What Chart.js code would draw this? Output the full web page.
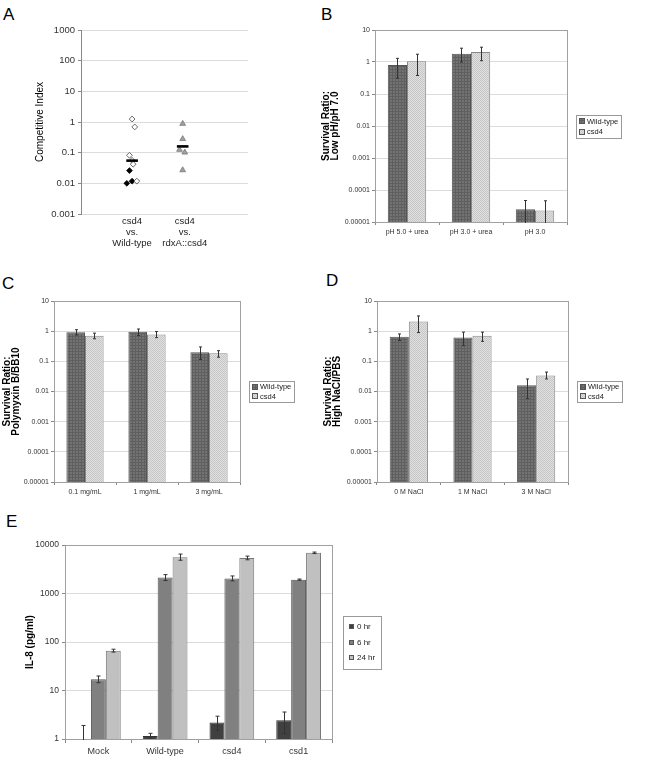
<!DOCTYPE html>
<html lang="en">
<head>
<meta charset="UTF-8" />
<title>csd4 phenotypes</title>
<style>
  body {
    margin: 0;
    background: #fff;
    font-family: 'Liberation Sans', Arial, sans-serif;
  }
  #page {
    position: relative;
    width: 650px;
    height: 758px;
    overflow: hidden;
  }
  .lbl {
    position: absolute;
    font-size: 17px;
    line-height: 1;
    color: #000;
  }
  canvas {
    position: absolute;
  }
</style>
</head>
<body>
<div id="page">
  <div class="lbl" style="left:3px;top:6px">A</div>
  <div class="lbl" style="left:321px;top:6px">B</div>
  <div class="lbl" style="left:2px;top:275px">C</div>
  <div class="lbl" style="left:326px;top:272px">D</div>
  <div class="lbl" style="left:6px;top:513px">E</div>

  <canvas id="chartA" style="left:0;top:0" width="260" height="260"></canvas>
  <canvas id="chartB" style="left:320px;top:0" width="330" height="260"></canvas>
  <canvas id="chartC" style="left:0;top:270px" width="320" height="250"></canvas>
  <canvas id="chartD" style="left:320px;top:270px" width="330" height="250"></canvas>
  <canvas id="chartE" style="left:0;top:520px" width="400" height="238"></canvas>
</div>

<script src="https://cdn.jsdelivr.net/npm/chart.js"></script>
<script>
// ---- data ----
// A: competitive index
const catA = [['csd4', 'vs.', 'Wild-type'], ['csd4', 'vs.', 'rdxA::csd4']];
const ticksA = ['0.001', '0.01', '0.1', '1', '10', '100', '1000'];
const openX = [1.0, 1.05, 0.95, 1.0, 1.02, 1.09];
const openY = [1.25, 0.69, 0.082, 0.056, 0.042, 0.0118];
const fillX = [0.95, 0.9, 1.0];
const fillY = [0.026, 0.01, 0.0118];
const triX = [1.96, 1.96, 1.9, 2.0, 1.96];
const triY = [0.88, 0.28, 0.125, 0.102, 0.027];
const meanX = [1.0, 1.96];
const meanY = [0.055, 0.16];

// B, C, D: survival ratios
const ticksSurv = ['0.00001', '0.0001', '0.001', '0.01', '0.1', '1', '10'];
const seriesNames = ['Wild-type', 'csd4'];

const catB = ['pH 5.0 + urea', 'pH 3.0 + urea', 'pH 3.0'];
const wtB = [0.8, 1.8, 0.000025];
const wtBHi = [1.3, 2.7, 0.000047];
const wtBLo = [0.31, 1.0, 0.000003];
const csdB = [1.05, 2.05, 0.000023];
const csdBHi = [1.75, 2.9, 0.000046];
const csdBLo = [0.38, 1.1, 0.000002];

const catC = ['0.1 mg/mL', '1 mg/mL', '3 mg/mL'];
const wtC = [0.92, 0.95, 0.2];
const wtCHi = [1.12, 1.18, 0.3];
const wtCLo = [0.75, 0.72, 0.115];
const csdC = [0.7, 0.78, 0.185];
const csdCHi = [0.86, 0.97, 0.225];
const csdCLo = [0.56, 0.61, 0.137];

const catD = ['0 M NaCl', '1 M NaCl', '3 M NaCl'];
const wtD = [0.65, 0.62, 0.016];
const wtDHi = [0.81, 0.93, 0.026];
const wtDLo = [0.49, 0.33, 0.0058];
const csdD = [2.1, 0.71, 0.034];
const csdDHi = [3.2, 0.93, 0.044];
const csdDLo = [0.9, 0.46, 0.026];

// E: IL-8
const catE = ['Mock', 'Wild-type', 'csd4', 'csd1'];
const ticksE = ['1', '10', '100', '1000', '10000'];
const timeNames = ['0 hr', '6 hr', '24 hr'];
const il0 = [1.0, 1.15, 2.2, 2.45];
const il0Hi = [1.9, 1.31, 2.95, 3.6];
const il0Lo = [0.5, 1.05, 1.48, 1.3];
const il6 = [17, 2150, 2050, 1930];
const il6Hi = [19.9, 2450, 2300, 1985];
const il6Lo = [14.5, 1850, 1820, 1880];
const il24 = [66, 5600, 5400, 6900];
const il24Hi = [71, 6500, 5900, 7150];
const il24Lo = [62, 4850, 4950, 6650];

// ---- setup ----
const FONT = "'Liberation Sans', Arial, sans-serif";
Chart.defaults.font.family = FONT;
Chart.defaults.animation = false;
Chart.defaults.responsive = false;
Chart.defaults.plugins.legend.display = false;
Chart.defaults.plugins.tooltip.enabled = false;

function makePattern(base, mark, kind) {
    const c = document.createElement('canvas');
    const n = kind === 'grid' ? 3 : 2;
    c.width = n; c.height = n;
    const g = c.getContext('2d');
    g.fillStyle = base;
    g.fillRect(0, 0, n, n);
    g.fillStyle = mark;
    if (kind === 'grid') {
        g.fillRect(0, 0, 3, 1);
        g.fillRect(0, 0, 1, 3);
    } else {
        g.fillRect(0, 0, 1, 1);
        g.fillRect(1, 1, 1, 1);
    }
    return document.createElement('canvas').getContext('2d').createPattern(c, 'repeat');
}
const wtFill = makePattern('#737373', '#5f5f5f', 'grid');
const csdFill = makePattern('#e0e0e0', '#c6c6c6', 'dots');

// error bars from dataset.errHi / errLo
const errBars = {
    id: 'errBars',
    afterDatasetsDraw(chart, args, o) {
        const ctx = chart.ctx, a = chart.chartArea, y = chart.scales.y;
        ctx.save();
        ctx.beginPath();
        ctx.rect(a.left, a.top, a.right - a.left, a.bottom - a.top + 1);
        ctx.clip();
        ctx.strokeStyle = '#333';
        ctx.lineWidth = 1;
        chart.data.datasets.forEach((ds, i) => {
            if (!ds.errHi) return;
            chart.getDatasetMeta(i).data.forEach((bar, j) => {
                const x = Math.round(bar.x) + 0.5;
                const y1 = y.getPixelForValue(ds.errHi[j]);
                const y2 = y.getPixelForValue(ds.errLo[j]);
                const w = o.cap || 1.5;
                ctx.beginPath();
                ctx.moveTo(x, y1); ctx.lineTo(x, y2);
                ctx.moveTo(x - w, y1); ctx.lineTo(x + w, y1);
                ctx.moveTo(x - w, y2); ctx.lineTo(x + w, y2);
                ctx.stroke();
            });
        });
        ctx.restore();
    }
};

// thin frame round the plot area (Excel style)
const frame = {
    id: 'frame',
    beforeDatasetsDraw(chart) {
        const ctx = chart.ctx, a = chart.chartArea;
        ctx.save();
        ctx.strokeStyle = '#a0a0a0';
        ctx.lineWidth = 1;
        ctx.strokeRect(Math.round(a.left) + 0.5, Math.round(a.top) + 0.5,
            Math.round(a.right - a.left), Math.round(a.bottom - a.top));
        ctx.restore();
    }
};

// boxed legend to the right of the plot
const boxLegend = {
    id: 'boxLegend',
    afterDraw(chart, args, o) {
        const ctx = chart.ctx, a = chart.chartArea;
        const ds = chart.data.datasets;
        ctx.save();
        ctx.font = o.size + 'px ' + FONT;
        const tw = Math.max(...ds.map(d => ctx.measureText(d.label).width));
        const w = Math.round(o.pad * 2 + o.box + o.gap + tw);
        const h = Math.round(o.rowH * ds.length + o.padY * 2);
        const x = Math.round(a.right + o.dx);
        const y = Math.round((a.top + a.bottom) / 2 - h / 2 + (o.dy || 0));
        ctx.strokeStyle = '#999';
        ctx.lineWidth = 1;
        ctx.strokeRect(x + 0.5, y + 0.5, w, h);
        ds.forEach((d, i) => {
            const cy = y + o.padY + o.rowH * (i + 0.5);
            const bx = x + o.pad, by = Math.round(cy - o.box / 2);
            ctx.fillStyle = d.backgroundColor;
            ctx.fillRect(bx, by, o.box, o.box);
            ctx.strokeStyle = '#555';
            ctx.strokeRect(bx + 0.5, by + 0.5, o.box - 1, o.box - 1);
            ctx.fillStyle = '#222';
            ctx.textBaseline = 'middle';
            ctx.fillText(d.label, bx + o.box + o.gap, cy + 0.5);
        });
        ctx.restore();
    }
};

function logY(min, max, labels, o) {
    return {
        type: 'logarithmic',
        min: min,
        max: max,
        afterBuildTicks: s => { s.ticks = labels.map(t => ({ value: Number(t) })); },
        afterFit: s => { s.width = o.width; },
        ticks: {
            callback: (v, i) => labels[i],
            font: { size: o.tick },
            color: '#333',
            padding: o.tickPad,
            autoSkip: false
        },
        grid: { color: '#dcdcdc', tickColor: '#888', tickLength: 3 },
        border: { color: '#888' },
        title: {
            display: true,
            text: o.title,
            color: '#000',
            font: { size: o.titleSize, weight: o.bold ? 'bold' : 'normal', lineHeight: o.titleLH || 1.2 },
            padding: { top: o.titlePad, bottom: 0 }
        }
    };
}

function catX(o) {
    return {
        type: 'category',
        offset: true,
        afterFit: s => { s.height = o.height; },
        grid: { display: true, drawOnChartArea: false, offset: true, tickLength: o.tl, tickColor: '#888' },
        border: { color: '#888' },
        ticks: { font: { size: o.size }, color: '#333', padding: o.pad, maxRotation: 0, autoSkip: false }
    };
}

// ---- A ----
function pts(xs, ys) {
    return xs.map((x, i) => ({ x: x, y: ys[i] }));
}

new Chart(document.getElementById('chartA'), {
    type: 'scatter',
    data: {
        datasets: [
            { label: 'mean', data: pts(meanX, meanY), pointStyle: 'line', pointRadius: 5.8,
              borderColor: '#000', pointBorderWidth: 2.6 },
            { label: 'open', data: pts(openX, openY), pointStyle: 'rectRot', pointRadius: 2.9,
              backgroundColor: '#fff', borderColor: '#444', pointBorderWidth: 0.8 },
            { label: 'filled', data: pts(fillX, fillY), pointStyle: 'rectRot', pointRadius: 2.9,
              backgroundColor: '#000', borderColor: '#000', pointBorderWidth: 0.8 },
            { label: 'tri', data: pts(triX, triY), pointStyle: 'triangle', pointRadius: 3.3,
              backgroundColor: '#a0a0a0', borderColor: '#777', pointBorderWidth: 0.8 }
        ]
    },
    options: {
        layout: { padding: { left: 0, top: 30, right: 12, bottom: 0 } },
        scales: {
            x: {
                type: 'linear',
                min: 0.03,
                max: 3.2,
                afterBuildTicks: s => { s.ticks = [{ value: 1 }, { value: 2 }]; },
                afterFit: s => { s.height = 46; },
                grid: { display: false, drawTicks: false },
                border: { display: false },
                ticks: { callback: (v, i) => catA[i], font: { size: 9.5, lineHeight: 1.16 },
                         color: '#222', padding: 1.5, maxRotation: 0, autoSkip: false }
            },
            y: logY(0.001, 1000, ticksA, { width: 81, tick: 9.5, tickPad: 3, title: 'Competitive Index',
                                           titleSize: 10, bold: false, titlePad: 34 })
        }
    }
});

// ---- B, C, D ----
function survival(id, cats, wt, wtHi, wtLo, csd, csdHi, csdLo, o) {
    new Chart(document.getElementById(id), {
        type: 'bar',
        data: {
            labels: cats,
            datasets: [
                { label: seriesNames[0], data: wt, errHi: wtHi, errLo: wtLo,
                  backgroundColor: wtFill, borderColor: '#555', borderWidth: 1 },
                { label: seriesNames[1], data: csd, errHi: csdHi, errLo: csdLo,
                  backgroundColor: csdFill, borderColor: '#888', borderWidth: 1 }
            ]
        },
        options: {
            categoryPercentage: 0.6,
            barPercentage: 1,
            layout: { padding: { left: 0, top: o.top, right: o.right, bottom: 0 } },
            scales: {
                x: catX({ height: 38, tl: 3, size: 7, pad: 3 }),
                y: logY(0.00001, 10, ticksSurv, { width: o.yw, tick: 7, tickPad: 2, title: o.title,
                                                  titleSize: 10, bold: true, titleLH: 0.95, titlePad: o.tp })
            },
            plugins: {
                errBars: { cap: 1.5 },
                boxLegend: { dx: 9, size: 7.5, box: 6, gap: 2, pad: 3, padY: 1, rowH: o.rowH }
            }
        },
        plugins: [frame, errBars, boxLegend]
    });
}

survival('chartB', catB, wtB, wtBHi, wtBLo, csdB, csdBHi, csdBLo,
    { top: 30, right: 83, yw: 55, title: ['Survival Ratio:', 'Low pH/pH 7.0'], tp: 1, rowH: 10.5 });
survival('chartC', catC, wtC, wtCHi, wtCLo, csdC, csdCHi, csdCLo,
    { top: 31, right: 80, yw: 54, title: ['Survival Ratio:', 'Polymyxin B/BB10'], tp: 2.3, rowH: 9.5 });
survival('chartD', catD, wtD, wtDHi, wtDLo, csdD, csdDHi, csdDLo,
    { top: 31, right: 82, yw: 57, title: ['Survival Ratio:', 'High NaCl/PBS'], tp: 3, rowH: 9.5 });

// ---- E ----
new Chart(document.getElementById('chartE'), {
    type: 'bar',
    data: {
        labels: catE,
        datasets: [
            { label: timeNames[0], data: il0, errHi: il0Hi, errLo: il0Lo,
              backgroundColor: '#404040', borderColor: '#333', borderWidth: 1 },
            { label: timeNames[1], data: il6, errHi: il6Hi, errLo: il6Lo,
              backgroundColor: '#808080', borderColor: '#555', borderWidth: 1 },
            { label: timeNames[2], data: il24, errHi: il24Hi, errLo: il24Lo,
              backgroundColor: '#c0c0c0', borderColor: '#777', borderWidth: 1 }
        ]
    },
    options: {
        categoryPercentage: 0.67,
        barPercentage: 1,
        layout: { padding: { left: 0, top: 25, right: 68, bottom: 0 } },
        scales: {
            x: catX({ height: 19, tl: 4, size: 9, pad: 3 }),
            y: logY(1, 10000, ticksE, { width: 65, tick: 8.5, tickPad: 3, title: 'IL-8 (pg/ml)',
                                        titleSize: 10, bold: true, titlePad: 24 })
        },
        plugins: {
            errBars: { cap: 2 },
            boxLegend: { dx: 11, size: 8, box: 5, gap: 3, pad: 6, padY: 3, rowH: 15.5 }
        }
    },
    plugins: [frame, errBars, boxLegend]
});
</script>
</body>
</html>
